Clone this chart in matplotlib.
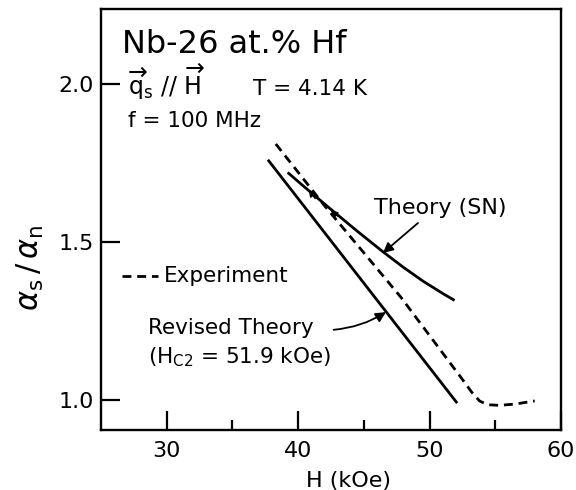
import matplotlib
matplotlib.use("Agg")
import matplotlib.pyplot as plt

plt.rcParams["font.family"] = ["DejaVu Sans"]
plt.rcParams["mathtext.fontset"] = "dejavusans"

# Field H (kOe) and normalized attenuation alpha_s / alpha_n
revised_H = [37.7, 52.1]
revised_a = [1.76, 0.99]

sn_H = [39.2, 40.2, 41.3, 42.5, 44.5, 46.45, 48.0, 49.5, 51.0, 51.9]
sn_a = [1.72, 1.684, 1.645, 1.603, 1.534, 1.469, 1.420, 1.376, 1.337, 1.315]

exp_H = [38.3, 42.0, 47.8, 52.5, 53.2, 53.8, 54.4, 55.3, 56.5, 58.0]
exp_a = [1.81, 1.615, 1.326, 1.065, 1.025, 0.997, 0.985, 0.983, 0.987, 0.997]

x_major = [30, 40, 50, 60]
x_minor = [35, 45, 55]
y_major = [1.0, 1.5, 2.0]
y_labels = ["1.0", "1.5", "2.0"]

fig = plt.figure(figsize=(5.76, 4.90), dpi=100)
ax = fig.add_axes([101 / 576, 1 - 430 / 490, 460 / 576, 421 / 490])

lw = 2.0
ax.plot(revised_H, revised_a, color="black", lw=lw, solid_capstyle="butt")
ax.plot(sn_H, sn_a, color="black", lw=lw, solid_capstyle="butt")
ax.plot(exp_H, exp_a, color="black", lw=lw, dashes=(3.2, 2.1))

ax.set_xlim(25, 60)
ax.set_ylim(0.905, 2.237)

ax.set_xticks(x_major)
ax.set_xticks(x_minor, minor=True)
ax.set_yticks(y_major)
ax.set_yticklabels(y_labels)
ax.tick_params(axis="both", which="major", direction="in", length=14, width=1.6,
               labelsize=16, color="black")
ax.tick_params(axis="x", which="minor", direction="in", length=7, width=1.6)
ax.tick_params(axis="x", which="major", pad=8)
ax.tick_params(axis="y", which="major", pad=5)
for s in ax.spines.values():
    s.set_linewidth(1.7)

fig.text(348 / 576, 1 - 481 / 490, "H (kOe)", ha="center", va="center", fontsize=16)
fig.text(30 / 576, 1 - 268 / 490, r"$\alpha_{\rm s}\,/\,\alpha_{\rm n}$", ha="center",
         va="center", rotation=90, fontsize=22)

# Header text
ax.text(26.6, 2.098, "Nb-26 at.% Hf", fontsize=23, va="baseline", ha="left")
ax.text(27.06, 1.965, r"$\overrightarrow{\rm q}_{\rm s}$ // $\overrightarrow{\rm H}$",
        fontsize=17, va="baseline", ha="left")
ax.text(36.53, 1.965, "T = 4.14 K", fontsize=15.5, va="baseline", ha="left")
ax.text(27.06, 1.864, "f = 100 MHz", fontsize=15.5, va="baseline", ha="left")

# Legend entry for the measurement
ax.plot([26.6, 29.35], [1.392, 1.392], color="black", lw=lw, dashes=(3.2, 2.1))
ax.text(29.8, 1.392, "Experiment", fontsize=15.5, va="center", ha="left")

# Curve labels with pointers
ax.text(50.8, 1.608, "Theory (SN)", fontsize=16, va="center", ha="center")
ax.annotate("", xy=(46.45, 1.465), xytext=(49.12, 1.56),
            arrowprops=dict(arrowstyle="-|>", color="black", lw=1.3,
                            mutation_scale=15, shrinkA=0, shrinkB=0))

ax.text(28.6, 1.228, "Revised Theory", fontsize=15.5, va="center", ha="left")
ax.text(28.6, 1.136, r"(H$_{\rm C2}$ = 51.9 kOe)", fontsize=15.5, va="center", ha="left")
ax.annotate("", xy=(46.68, 1.278), xytext=(42.7, 1.222),
            arrowprops=dict(arrowstyle="-|>", color="black", lw=1.3,
                            mutation_scale=15, shrinkA=0, shrinkB=0,
                            connectionstyle="arc3,rad=0.12"))

# Small direction marks near the crossing of the curves
ax.annotate("", xy=(40.8, 1.665), xytext=(41.3, 1.637),
            arrowprops=dict(arrowstyle="-|>", color="black", lw=1.0,
                            mutation_scale=10, shrinkA=0, shrinkB=0))
ax.annotate("", xy=(42.48, 1.60), xytext=(43.0, 1.582),
            arrowprops=dict(arrowstyle="-|>", color="black", lw=1.0,
                            mutation_scale=10, shrinkA=0, shrinkB=0))

fig.savefig("out.png", dpi=100)
